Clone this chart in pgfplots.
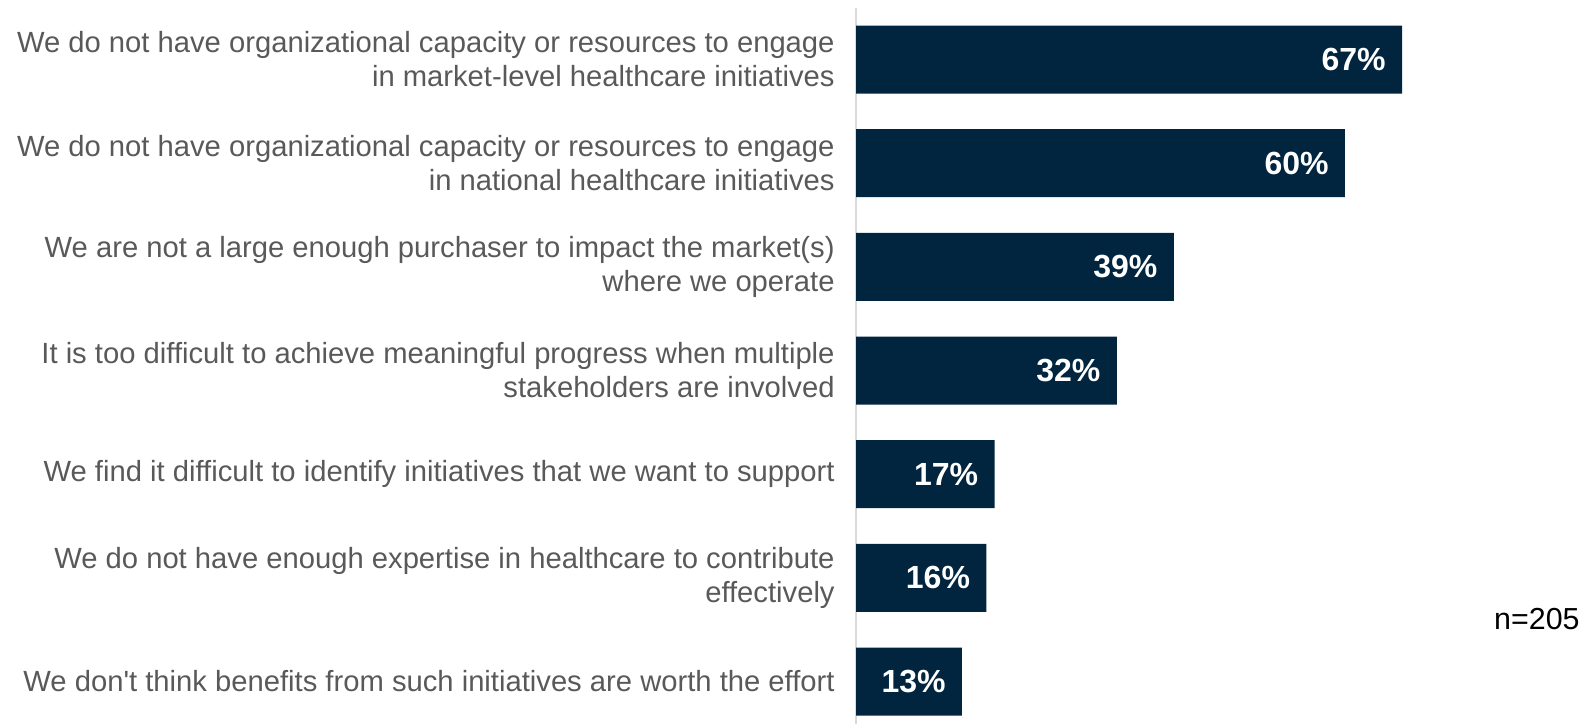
\documentclass[border=0pt]{standalone}
\usepackage{fontspec}
\setmainfont{Liberation Sans}
\usepackage{pgfplots}
\pgfplotsset{compat=1.18}
\definecolor{barnavy}{HTML}{01253E}
\definecolor{labelgray}{HTML}{595959}
\definecolor{axisgray}{HTML}{D9D9D9}
\begin{document}
\begin{tikzpicture}
\begin{axis}[
    at={(428pt,0pt)}, anchor=south west,
    xbar,
    scale only axis,
    width=366.75pt, height=358pt,
    xmin=0, xmax=90,
    ymin=-0.497, ymax=6.41,
    y dir=reverse,
    bar width=34pt,
    axis x line=none,
    axis y line*=left,
    y axis line style={axisgray, line width=0.75pt, -},
    ytick={0,...,6},
    major tick length=0pt,
    yticklabels={
        {We do not have organizational capacity or resources to engage\\in market-level healthcare initiatives},
        {We do not have organizational capacity or resources to engage\\in national healthcare initiatives},
        {We are not a large enough purchaser to impact the market(s)\\where we operate},
        {It is too difficult to achieve meaningful progress when multiple\\stakeholders are involved},
        {We find it difficult to identify initiatives that we want to support},
        {We do not have enough expertise in healthcare to contribute\\effectively},
        {We don\textquotesingle t think benefits from such initiatives are worth the effort}
    },
    yticklabel style={align=right, text=labelgray, inner sep=0pt, xshift=-10.5pt,
        font=\fontsize{14.6}{17}\selectfont},
    /pgf/number format/assume math mode=true,
    nodes near coords={\pgfmathprintnumber{\pgfplotspointmeta}\%},
    every node near coord/.append style={anchor=east, inner sep=0pt, xshift=-8pt,
        text=white, font=\fontsize{16}{19}\selectfont\bfseries},
]
\addplot[fill=barnavy, draw=none] coordinates {(67,0) (60,1) (39,2) (32,3) (17,4) (16,5) (13,6)};
\end{axis}
\node[anchor=east, inner sep=0pt, font=\fontsize{15.2}{18}\selectfont] at (790pt,52.5pt) {n=205};
\pgfresetboundingbox
\path[use as bounding box] (0,0) rectangle (796.5pt,362pt);
\end{tikzpicture}
\end{document}
